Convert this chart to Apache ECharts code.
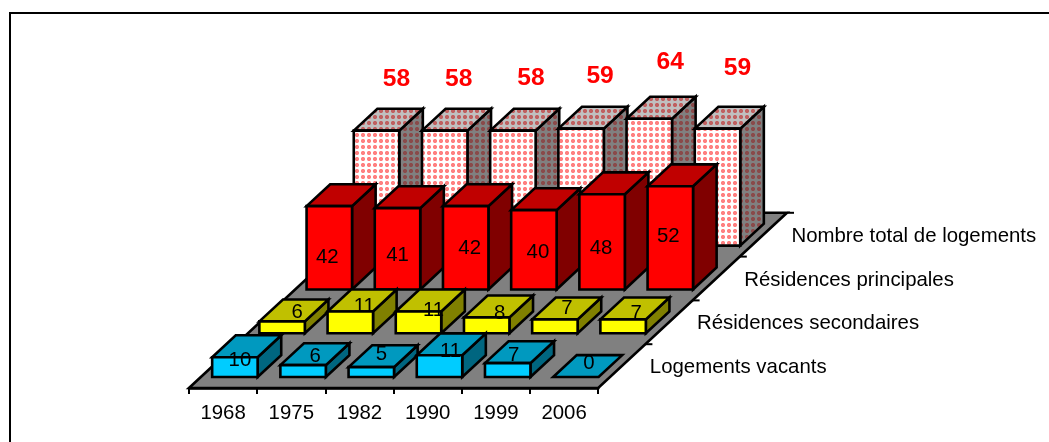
<!DOCTYPE html>
<html>
<head>
<meta charset="utf-8">
<script src="https://cdn.jsdelivr.net/npm/echarts@6/dist/echarts.min.js"></script>
<style>html,body{margin:0;padding:0;background:#fff}#c{width:1049px;height:442px}</style>
</head>
<body>
<div id="c"></div>
<script>
var years = ['1968','1975','1982','1990','1999','2006'];
var rowNames = ['Logements vacants','Résidences secondaires','Résidences principales','Nombre total de logements'];
var logementsVacants = [10,6,5,11,7,0];
var residencesSecondaires = [6,11,11,8,7,7];
var residencesPrincipales = [42,41,42,40,48,52];
var nombreTotal = [58,58,58,59,64,59];

/* layout: oblique projection of the depth axis, in pixels per row */
var ROW_DX = 47.2, ROW_DY = 43.8;
/* hand placement of each data label relative to the top-centre of its bar's front face */
var labelNudges = [
  [[5,3],[12,-9],[10,-13],[11,-4],[6,-8],[13,-14]],
  [[15,-9],[14,-5],[15,-1],[13,-4],[12,-11],[13,-6]],
  [[-2,51],[0,47],[4,42],[4,42],[-1,54],[-2,50]],
  [[20,-51],[14,-51],[18,-52],[19,-52],[21,-56],[20,-60]]
];

function dotted(bg, dot) {
  var cv = document.createElement('canvas');
  cv.width = 6; cv.height = 6;
  var g = cv.getContext('2d');
  g.fillStyle = bg; g.fillRect(0,0,6,6);
  g.fillStyle = dot;
  g.globalAlpha = 0.4;
  g.fillRect(1,1,4,4);
  g.globalAlpha = 1;
  g.fillRect(1,2,4,2);
  g.fillRect(2,1,2,4);
  return {image: cv, repeat: 'repeat'};
}
var LABEL_FONT = '20.4px "Liberation Sans"';
var rowStyles = [
  {front:'#00CCFF', top:'#0099BF', side:'#006680', label:{fill:'#000', font:LABEL_FONT}},
  {front:'#FFFF00', top:'#C0C000', side:'#808000', label:{fill:'#000', font:LABEL_FONT}},
  {front:'#FF0000', top:'#C00000', side:'#800000', label:{fill:'#000', font:LABEL_FONT}},
  {front:dotted('#FFFFFF','#FF8080'), top:dotted('#C0C0C0','#C06060'), side:dotted('#808080','#8A4A4A'),
   label:{fill:'#FF0000', font:'bold 24.6px "Liberation Sans"'}}
];
var edge = {stroke:'#000', lineWidth:2.6, lineJoin:'miter'};
function poly(points, fill) {
  return {type:'polygon', shape:{points:points}, style:Object.assign({fill:fill}, edge)};
}

function barSeries(values, r) {
  var st = rowStyles[r];
  return {
    type:'custom', silent:true, clip:false,
    data: values.map(function(v,i){return [i,v];}),
    encode:{x:0,y:1},
    renderItem:function(params, api){
      var i = api.value(0), v = api.value(1);
      var base = api.coord([i,0]), top = api.coord([i,v]);
      var band = api.size([1,0])[0], w = band/1.5;
      var ox = ROW_DX*(r+0.25), oy = -ROW_DY*(r+0.25);
      var dx = ROW_DX*0.5, dy = -ROW_DY*0.5;
      var xl = base[0]+ox-w/2, xr = xl+w, yb = base[1]+oy, yt = top[1]+oy;
      var children = [];
      if (v>0) {
        children.push(poly([[xr,yb],[xr+dx,yb+dy],[xr+dx,yt+dy],[xr,yt]], st.side));
      }
      children.push(poly([[xl,yt],[xr,yt],[xr+dx,yt+dy],[xl+dx,yt+dy]], st.top));
      if (v>0) {
        children.push(poly([[xl,yb],[xr,yb],[xr,yt],[xl,yt]], st.front));
      }
      var n = labelNudges[r][i];
      children.push({type:'text', style:{
        text:String(v), x:xl+w/2+n[0], y:yt+n[1],
        align:'center', verticalAlign:'middle',
        fill:st.label.fill, font:st.label.font
      }});
      return {type:'group', children:children};
    }
  };
}

var floorSeries = {
  type:'custom', silent:true, clip:false,
  data:[[0,0]], encode:{x:0,y:1},
  renderItem:function(params, api){
    var a = api.coord([0,0]), b = api.coord([years.length-1,0]);
    var band = api.size([1,0])[0];
    var x0 = a[0]-band/2, x1 = b[0]+band/2, y = a[1];
    var n = rowNames.length;
    var children = [{type:'polygon',
      shape:{points:[[x0,y],[x1,y],[x1+n*ROW_DX,y-n*ROW_DY],[x0+n*ROW_DX,y-n*ROW_DY]]},
      style:Object.assign({fill:'#808080'}, edge)}];
    for (var k=1;k<=n;k++) {
      children.push({type:'line',
        shape:{x1:x1+k*ROW_DX,y1:y-k*ROW_DY,x2:x1+k*ROW_DX+7,y2:y-k*ROW_DY},
        style:{stroke:'#000',lineWidth:2}});
    }
    return {type:'group',children:children};
  }
};

var rowLabelSeries = {
  type:'custom', silent:true, clip:false,
  data:rowNames.map(function(_,r){return [r,0];}), encode:{x:0,y:1},
  renderItem:function(params, api){
    var r = params.dataIndex;
    var b = api.coord([years.length-1,0]);
    var band = api.size([1,0])[0];
    return {type:'text', style:{
      text:rowNames[r],
      x:b[0]+band/2+ROW_DX*(r+0.5)+28, y:b[1]-ROW_DY*(r+0.5)+1.5,
      align:'left', verticalAlign:'middle',
      fill:'#000', font:LABEL_FONT
    }};
  }
};

var chart = echarts.init(document.getElementById('c'), null, {renderer:'canvas'});
chart.setOption({
  animation:false,
  backgroundColor:'#fff',
  grid:{left:189, right:450.8, bottom:54, top:31},
  xAxis:{type:'category', data:years, boundaryGap:true,
    axisLine:{show:true, lineStyle:{color:'#000', width:2.6}},
    axisTick:{show:true, length:6, alignWithLabel:false, lineStyle:{color:'#000', width:2}},
    axisLabel:{show:true, color:'#000', fontFamily:'Liberation Sans', fontSize:20.4, margin:15, interval:0},
    splitLine:{show:false}},
  yAxis:{type:'value', min:0, max:180, show:false},
  graphic:[
    {type:'line', silent:true, shape:{x1:10,y1:13,x2:1049,y2:13}, style:{stroke:'#000',lineWidth:2}},
    {type:'line', silent:true, shape:{x1:10,y1:12,x2:10,y2:442}, style:{stroke:'#000',lineWidth:2}}
  ],
  series:[floorSeries,
    barSeries(nombreTotal,3),
    barSeries(residencesPrincipales,2),
    barSeries(residencesSecondaires,1),
    barSeries(logementsVacants,0),
    rowLabelSeries]
});
</script>
</body>
</html>
